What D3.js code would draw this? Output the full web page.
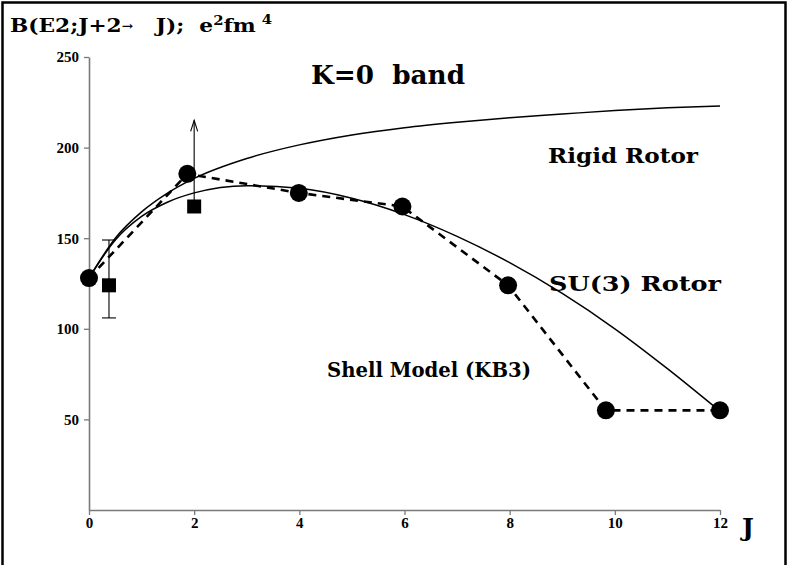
<!DOCTYPE html>
<html>
<head>
<meta charset="utf-8">
<script src="https://cdn.jsdelivr.net/npm/d3@7"></script>
<style>
  body { margin: 0; background: #fff; }
  svg { display: block; }
  .lbl { font-family: "DejaVu Serif", serif; font-weight: bold; fill: #000; }
  .tick text { font-family: "Liberation Serif", "Times New Roman", serif; font-weight: bold; }
</style>
</head>
<body>
<svg id="chart" width="788" height="565"></svg>
<script>
// values
var xTicks = [0, 2, 4, 6, 8, 10, 12];
var yTicks = [50, 100, 150, 200, 250];

// rigid rotor curve, sampled [J, B(E2)]
var rigidRotor = [
  [0, 128], [0.5, 150], [1, 164.5], [1.5, 175], [2, 183], [3, 194],
  [4, 201.5], [5, 207], [6, 211], [7, 214], [8, 216.5], [9, 218.5],
  [10, 220.5], [11, 222], [12, 223]
];

// SU(3) rotor curve
var su3Rotor = [
  [0, 128], [0.5, 149], [1, 162], [1.5, 170], [2, 175], [3, 179],
  [4, 177.5], [5, 172], [6, 163], [7, 151], [8, 136.5], [9, 119.5],
  [10, 100], [11, 78], [12, 54.5]
];

// shell model (KB3) points
var shellModel = [
  [0, 128], [1.87, 185.5], [3.99, 175], [5.96, 167.5], [7.97, 124], [9.83, 55], [12, 55]
];

// experiment: [J, value, errLow, errHigh]
var expErr = [[0.38, 124, 106, 149]];
// lower limit: [J, value, arrow tip]
var expLimit = [[2.0, 167.5, 215]];

var svg = d3.select("#chart");

var x = d3.scaleLinear().domain([0, 12]).range([89, 720]);
var y = d3.scaleLinear().domain([0, 250]).range([510, 57]);

// frame
svg.append("rect")
  .attr("x", 2.5).attr("y", 2.5)
  .attr("width", 783).attr("height", 620)
  .attr("fill", "none")
  .attr("stroke", "#000")
  .attr("stroke-width", 2.5);

// axes
var xAxis = svg.append("g")
  .attr("transform", "translate(0," + y(0) + ")")
  .call(d3.axisBottom(x).tickValues(xTicks).tickSize(5).tickSizeOuter(0).tickPadding(2));
var yAxis = svg.append("g")
  .attr("transform", "translate(" + x(0) + ",0)")
  .call(d3.axisLeft(y).tickValues(yTicks).tickSize(5).tickSizeOuter(0).tickPadding(5));

[xAxis, yAxis].forEach(function(a) {
  a.select(".domain").attr("stroke", "#7a7a7a").attr("stroke-width", 1.6);
  a.selectAll(".tick line").attr("stroke", "#7a7a7a").attr("stroke-width", 1.3);
  a.selectAll(".tick text").attr("fill", "#000").style("font-size", "15px");
});
xAxis.selectAll(".tick text").attr("dy", "0.72em");

var line = d3.line()
  .x(d => x(d[0]))
  .y(d => y(d[1]));

var smooth = d3.line()
  .x(d => x(d[0]))
  .y(d => y(d[1]))
  .curve(d3.curveMonotoneX);

svg.append("path")
  .attr("d", smooth(rigidRotor))
  .attr("fill", "none").attr("stroke", "#000").attr("stroke-width", 1.5);

svg.append("path")
  .attr("d", smooth(su3Rotor))
  .attr("fill", "none").attr("stroke", "#000").attr("stroke-width", 1.5);

svg.append("path")
  .attr("d", line(shellModel))
  .attr("fill", "none").attr("stroke", "#000").attr("stroke-width", 2.6)
  .attr("stroke-dasharray", "8,6");

// error bar
expErr.forEach(function(d) {
  var g = svg.append("g").attr("stroke", "#000").attr("stroke-width", 1.1);
  g.append("line").attr("x1", x(d[0])).attr("x2", x(d[0])).attr("y1", y(d[2])).attr("y2", y(d[3]));
  g.append("line").attr("x1", x(d[0]) - 7).attr("x2", x(d[0]) + 7).attr("y1", y(d[2])).attr("y2", y(d[2]));
  g.append("line").attr("x1", x(d[0]) - 7).attr("x2", x(d[0]) + 7).attr("y1", y(d[3])).attr("y2", y(d[3]));
});

// arrow for lower limit
expLimit.forEach(function(d) {
  var g = svg.append("g").attr("stroke", "#000").attr("stroke-width", 1.1).attr("fill", "none");
  var cx = x(d[0]), top = y(d[2]);
  g.append("line").attr("x1", cx).attr("x2", cx).attr("y1", y(d[1])).attr("y2", top);
  g.append("path").attr("d", "M" + (cx - 3.5) + "," + (top + 11) + "L" + cx + "," + top + "L" + (cx + 3.5) + "," + (top + 11));
});

// circles
svg.selectAll("circle.sm")
  .data(shellModel).enter()
  .append("circle")
  .attr("class", "sm")
  .attr("cx", d => x(d[0]))
  .attr("cy", d => y(d[1]))
  .attr("r", 9)
  .attr("fill", "#000");

// squares
var squares = expErr.map(d => [d[0], d[1]]).concat(expLimit.map(d => [d[0], d[1]]));
svg.selectAll("rect.exp")
  .data(squares).enter()
  .append("rect")
  .attr("class", "exp")
  .attr("x", d => x(d[0]) - 7)
  .attr("y", d => y(d[1]) - 7)
  .attr("width", 14).attr("height", 14)
  .attr("fill", "#000");

// texts
var title = svg.append("text").attr("class", "lbl")
  .attr("x", 10).attr("y", 32).style("font-size", "19px")
  .attr("textLength", 262).attr("lengthAdjust", "spacingAndGlyphs");
title.append("tspan").text("B(E2;J+2");
title.append("tspan").text("\u2192").style("font-size", "12px").attr("dy", -2);
title.append("tspan").text("\u00a0\u00a0\u00a0J);\u00a0\u00a0e").attr("dy", 2);
title.append("tspan").text("2").style("font-size", "13px").attr("dy", -7);
title.append("tspan").text("fm").attr("dy", 7);
title.append("tspan").text("\u2009\u20094").style("font-size", "13px").attr("dy", -8);

function label(txt, x0, y0, size, len) {
  svg.append("text").attr("class", "lbl")
    .attr("x", x0).attr("y", y0).style("font-size", size + "px")
    .attr("textLength", len).attr("lengthAdjust", "spacingAndGlyphs")
    .text(txt);
}

label("K=0\u00a0\u00a0band", 311, 84, 26, 154);
label("Rigid Rotor", 548, 163, 21, 150);
label("SU(3) Rotor", 549, 291, 21, 172);
label("Shell Model (KB3)", 327, 377, 21, 204);

svg.append("text").attr("class", "lbl")
  .attr("x", 742).attr("y", 536).style("font-size", "25px")
  .text("J");
</script>
</body>
</html>
